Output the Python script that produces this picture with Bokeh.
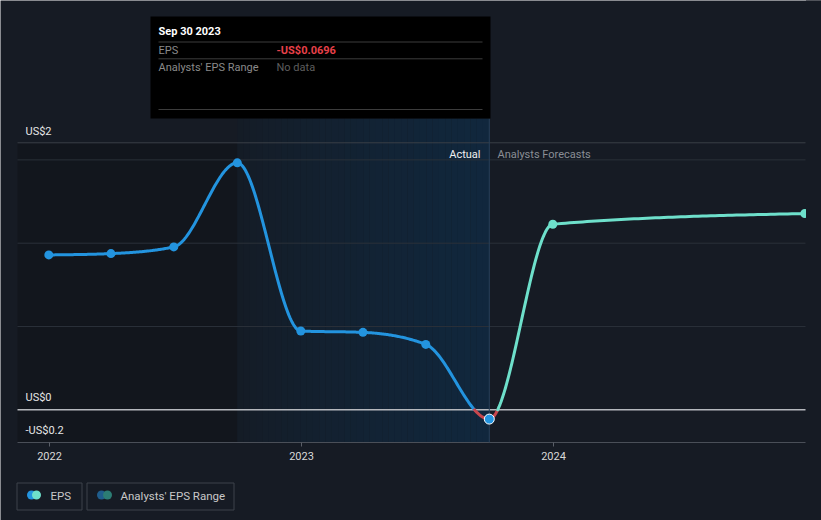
import numpy as np
import pandas as pd
from bokeh.plotting import figure
from bokeh.models import Range1d
from bokeh.core.properties import value
from bokeh.embed import file_html
from bokeh.resources import INLINE

# ---------------- data ----------------
actual_dates = ["2021-12-31", "2022-03-31", "2022-06-30", "2022-09-30",
                "2022-12-31", "2023-03-31", "2023-06-30", "2023-09-30"]
actual_eps = [1.16, 1.17, 1.22, 1.85, 0.59, 0.58, 0.49, -0.0696]
forecast_dates = ["2023-09-30", "2023-12-31", "2024-12-31"]
forecast_eps = [-0.0696, 1.39, 1.47]
year_ticks = [2022, 2023, 2024]
y_labels = ["US$2", "US$0", "-US$0.2"]
y_label_values = [2.0, 0.0, -0.2]
grid_values = [0.624, 1.248, 1.872]
past_year_start = "2022-09-30"
past_year_end = "2023-09-30"
tooltip_date = "Sep 30 2023"
tooltip_eps = "-US$0.0696"

# ---------------- styles ----------------
BG = "#161b24"
DARK = "#12161d"
BLUE = "#2394df"
TEAL = "#6ee0cb"
RED = "#c8474d"
FONT = value("Roboto")

W, H = 821, 520
X0PX, YEARPX = 49.0, 252.0
ZEROPX, UNITPX = 409.3, 133.5


def dec_year(s):
    d = pd.Timestamp(s)
    days = 366 if d.is_leap_year else 365
    return d.year + (d.dayofyear - 1) / days


def X(px):
    return 2022 + (px - X0PX) / YEARPX


def Y(py):
    return (ZEROPX - py) / UNITPX


p = figure(width=W, height=H, output_backend="svg", toolbar_location=None, tools="",
           x_range=Range1d(X(0), X(W)), y_range=Range1d(Y(H), Y(0)),
           min_border=0, background_fill_color=BG, border_fill_color=BG,
           outline_line_color=None)
p.axis.visible = False
p.grid.visible = False

# shaded regions
p.quad(left=[X(17)], right=[dec_year(past_year_start)], top=[2.0], bottom=[Y(442)],
       fill_color=DARK, line_color=None)

x_a, x_b = dec_year(past_year_start), dec_year(past_year_end)
n = 40
edges = np.linspace(x_a, x_b, n + 1)
c0 = np.array([0x15, 0x1c, 0x26])
c1 = np.array([0x11, 0x28, 0x3e])
cols = []
for i in range(n):
    f = (i + 0.5) / n
    c = (c0 + (c1 - c0) * f ** 0.8).astype(int)
    cols.append("#%02x%02x%02x" % tuple(c))
p.quad(left=edges[:-1], right=edges[1:] + 0.0005, top=[Y(118)] * n, bottom=[Y(442)] * n,
       fill_color=cols, line_color=None)

# gridlines
p.segment(x0=[X(17)] * len(grid_values), x1=[X(805)] * len(grid_values),
          y0=grid_values, y1=grid_values, line_color="#2a3039", line_width=1)
p.segment(x0=[X(17)], x1=[X(805)], y0=[2.0], y1=[2.0], line_color="#3a3f47", line_width=1)
p.segment(x0=[X(17)], x1=[X(805)], y0=[Y(442)], y1=[Y(442)], line_color="#4a4f58", line_width=1)
p.segment(x0=[X(17)], x1=[X(805)], y0=[0.0], y1=[0.0], line_color="#b5b8bd", line_width=1.5)

# hover line
p.segment(x0=[x_b], x1=[x_b], y0=[Y(118)], y1=[Y(442)], line_color="#28405a", line_width=1)

# x ticks
p.segment(x0=year_ticks, x1=year_ticks, y0=[Y(442)] * 3, y1=[Y(446)] * 3,
          line_color="#5a5f68", line_width=1)
p.text(x=year_ticks, y=[Y(455)] * 3, text=[str(t) for t in year_ticks],
       text_font=FONT, text_font_size="11px", text_color="#d8d8d8",
       text_align="center", text_baseline="middle")

# y labels
label_py = {2.0: 131, 0.0: 397, -0.2: 430}
p.text(x=[X(25)] * 3, y=[Y(label_py[v]) for v in y_label_values], text=y_labels,
       text_font=FONT, text_font_size="11px", text_color="#e6e6e6",
       text_align="left", text_baseline="middle")

p.text(x=[X(480)], y=[Y(154)], text=["Actual"], text_font=FONT, text_font_size="11px",
       text_color="#f0f0f0", text_align="right", text_baseline="middle")
p.text(x=[X(497)], y=[Y(154)], text=["Analysts Forecasts"], text_font=FONT,
       text_font_size="11px", text_color="#8a8e95", text_align="left", text_baseline="middle")


# ---------------- curves (monotone-x smoothing through the data points) ----------------
def tangents(x, y):
    x = np.asarray(x, float)
    y = np.asarray(y, float)
    h = np.diff(x)
    s = np.diff(y) / h
    t = np.zeros(len(x))
    for i in range(1, len(x) - 1):
        pp = (s[i - 1] * h[i] + s[i] * h[i - 1]) / (h[i - 1] + h[i])
        t[i] = (np.sign(s[i - 1]) + np.sign(s[i])) * min(abs(s[i - 1]), abs(s[i]), 0.5 * abs(pp))
    t[0] = (3 * s[0] - t[1]) / 2
    t[-1] = (3 * s[-1] - t[-2]) / 2
    return t


def hermite(x, y, t, i0, i1, m=60):
    xs, ys = [], []
    for i in range(i0, i1):
        u = np.linspace(0, 1, m)
        if i > i0:
            u = u[1:]
        hh = x[i + 1] - x[i]
        h00 = 2 * u ** 3 - 3 * u ** 2 + 1
        h10 = u ** 3 - 2 * u ** 2 + u
        h01 = -2 * u ** 3 + 3 * u ** 2
        h11 = u ** 3 - u ** 2
        xs.extend(x[i] + u * hh)
        ys.extend(h00 * y[i] + h10 * hh * t[i] + h01 * y[i + 1] + h11 * hh * t[i + 1])
    return np.array(xs), np.array(ys)


def draw_split(xs, ys, pos_color):
    runs = []
    cur_x, cur_y = [xs[0]], [ys[0]]
    cur_neg = ys[0] < 0
    for i in range(1, len(xs)):
        neg = ys[i] < 0
        if neg != cur_neg:
            f = ys[i - 1] / (ys[i - 1] - ys[i])
            xc = xs[i - 1] + f * (xs[i] - xs[i - 1])
            cur_x.append(xc)
            cur_y.append(0.0)
            runs.append((cur_x, cur_y, cur_neg))
            cur_x, cur_y = [xc], [0.0]
            cur_neg = neg
        cur_x.append(xs[i])
        cur_y.append(ys[i])
    runs.append((cur_x, cur_y, cur_neg))
    for rx, ry, neg in runs:
        p.line(rx, ry, line_color=RED if neg else pos_color, line_width=3,
               line_cap="round", line_join="round")


ax = [dec_year(d) for d in actual_dates]
fx = [dec_year(d) for d in forecast_dates]
all_x = np.array(ax + fx[1:])
all_y = np.array(actual_eps + forecast_eps[1:])
tan = tangents(all_x, all_y)
na = len(ax)
draw_split(*hermite(all_x, all_y, tan, 0, na - 1), BLUE)
draw_split(*hermite(all_x, all_y, tan, na - 1, len(all_x) - 1), TEAL)

p.scatter(ax[:-1], actual_eps[:-1], size=9, fill_color=BLUE, line_color=None)
p.scatter(fx[1:], forecast_eps[1:], size=9, fill_color=TEAL, line_color=None)
p.scatter([ax[-1]], [actual_eps[-1]], size=10, fill_color=BLUE, line_color="white", line_width=1)

# mask at right edge (clip of the plot area)
p.quad(left=[X(805.5)], right=[X(W + 5)], top=[Y(-5)], bottom=[Y(H + 5)],
       fill_color=BG, line_color=None)

# ---------------- tooltip ----------------
p.quad(left=[X(150)], right=[X(490)], top=[Y(16)], bottom=[Y(118)],
       fill_color="#000000", line_color=None)
p.segment(x0=[X(158)] * 3, x1=[X(482)] * 3, y0=[Y(41.5), Y(58.3), Y(109)],
          y1=[Y(41.5), Y(58.3), Y(109)], line_color="#3c3c3c", line_width=1)
p.text(x=[X(158)], y=[Y(31)], text=[tooltip_date], text_font=FONT, text_font_size="11px",
       text_font_style="bold", text_color="#ffffff", text_baseline="middle")
p.text(x=[X(158), X(158)], y=[Y(49.5), Y(66.5)], text=["EPS", "Analysts' EPS Range"],
       text_font=FONT, text_font_size="11px", text_color="#8a8a8a", text_baseline="middle")
p.text(x=[X(276)], y=[Y(49.5)], text=[tooltip_eps], text_font=FONT, text_font_size="11px",
       text_font_style="bold", text_color="#e8414a", text_baseline="middle")
p.text(x=[X(276)], y=[Y(66.5)], text=["No data"], text_font=FONT, text_font_size="11px",
       text_color="#5e5e5e", text_baseline="middle")

# ---------------- legend ----------------
p.quad(left=[X(16.5), X(86.5)], right=[X(81.5), X(233.5)], top=[Y(482.5)] * 2,
       bottom=[Y(509.5)] * 2, fill_color=None, line_color="#3d424b", line_width=1)
p.scatter([X(31), X(36)], [Y(494.5)] * 2, size=9, fill_color=[BLUE, TEAL], line_color=None)
p.scatter([X(101), X(107)], [Y(494.5)] * 2, size=9, fill_color=["#1f5d8c", "#2c7d74"],
          line_color=None)
p.text(x=[X(50), X(120)], y=[Y(495)] * 2, text=["EPS", "Analysts' EPS Range"],
       text_font=FONT, text_font_size="11.5px", text_color="#c8c8c8", text_baseline="middle")

open("out.html", "w").write(file_html(p, INLINE))
